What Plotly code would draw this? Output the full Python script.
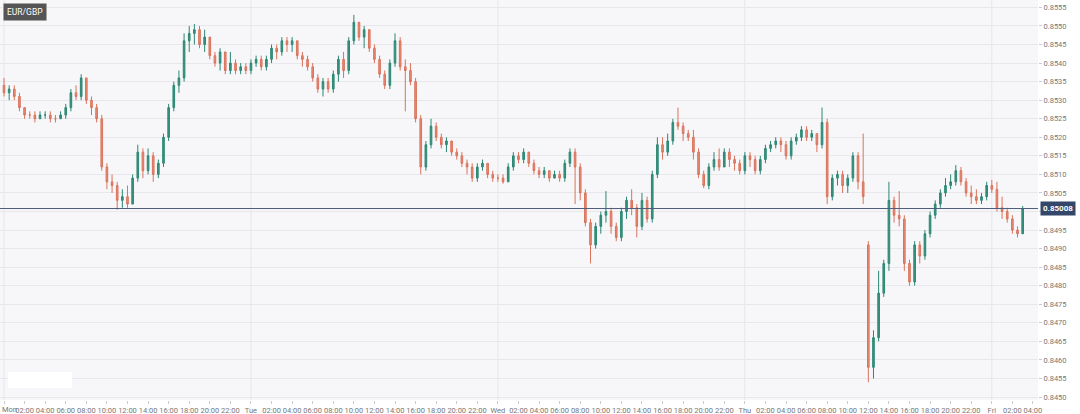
import plotly.graph_objects as go

# 30-minute candles, Mon 00:00 -> Fri 03:00 (hours since Mon 00:00)
open_ = [
    # Mon
    .8534,.8532,.8533,.8531,.8528,.8526,.8526,.8525,.8526,.8526,.8525,.8525,.8526,.8528,.8532,.8531,.8536,.8530,.8528,.8525,.8512,.8508,.8507,.8503,
    .8504,.8502,.8509,.8516,.8511,.8515,.8510,.8513,.8520,.8528,.8534,.8536,.8546,.8548,.8549,.8545,.8547,.8542,.8540,.8543,.8538,.8540,.8538,.8539,
    # Tue
    .8538,.8540,.8541,.8539,.8541,.8544,.8543,.8546,.8545,.8546,.8542,.8541,.8539,.8536,.8533,.8535,.8533,.8537,.8541,.8538,.8546,.8551,.8547,.8549,
    .8544,.8541,.8537,.8534,.8540,.8546,.8539,.8538,.8535,.8525,.8512,.8518,.8523,.8520,.8518,.8519,.8516,.8515,.8513,.8512,.8509,.8512,.8513,.8510,
    # Wed
    .8509,.8509,.8508,.8512,.8515,.8514,.8516,.8513,.8511,.8510,.8511,.8509,.8510,.8509,.8513,.8516,.8512,.8505,.8497,.8491,.8496,.8499,.8500,.8496,
    .8493,.8500,.8503,.8501,.8496,.8503,.8498,.8510,.8518,.8516,.8519,.8524,.8523,.8521,.8520,.8516,.8510,.8507,.8512,.8514,.8512,.8516,.8514,.8513,
    # Thu
    .8511,.8515,.8514,.8511,.8514,.8517,.8518,.8519,.8518,.8515,.8519,.8520,.8522,.8520,.8521,.8518,.8524,.8504,.8509,.8510,.8507,.8509,.8515,.8508,
    .8491,.8458,.8466,.8478,.8486,.8503,.8499,.8498,.8486,.8481,.8491,.8488,.8494,.8499,.8502,.8505,.8507,.8508,.8511,.8508,.8505,.8504,.8503,.8504,
    # Fri
    .8507,.8506,.8501,.8500,.8498,.8495,.8494,
]
high = [
    .8536,.8534,.8534,.8532,.8528,.8527,.8527,.8527,.8527,.8527,.8526,.8527,.8529,.8533,.8534,.8537,.8536,.8531,.8529,.8526,.8513,.8510,.8508,.8506,
    .8507,.8510,.8518,.8517,.8517,.8516,.8514,.8521,.8529,.8535,.8538,.8548,.8550,.85505,.8550,.8549,.8547,.8543,.8544,.8543,.8543,.8541,.8540,.8540,
    .8541,.8542,.8542,.8542,.8545,.8545,.8547,.8547,.8547,.8546,.8543,.8542,.8540,.8537,.8536,.8536,.8538,.8542,.8543,.8547,.8553,.8551,.8550,.8549,
    .8545,.8542,.8538,.8541,.8548,.8547,.8541,.8540,.8536,.8526,.8519,.8525,.8524,.8521,.8520,.8519,.8517,.8516,.8514,.8513,.8513,.8514,.8513,.8511,
    .8510,.8510,.8513,.8516,.8516,.8517,.8516,.8514,.8512,.8512,.8511,.8511,.8511,.8514,.8517,.8517,.8513,.8506,.8498,.8497,.8500,.85055,.8501,.8497,
    .8501,.8504,.8506,.8502,.8505,.8504,.8511,.8520,.8520,.8521,.8525,.8528,.8524,.8522,.8522,.8517,.8511,.8513,.8516,.8517,.8517,.8517,.8515,.8514,
    .8516,.8516,.8515,.8515,.8518,.8519,.8520,.8520,.8519,.8520,.8521,.8523,.8523,.8522,.8521,.8528,.8525,.8510,.8511,.8511,.8510,.8516,.8516,.8521,
    .8492,.8468,.8484,.8487,.8508,.8504,.85055,.8499,.8487,.8492,.8492,.8495,.8500,.8503,.8506,.8509,.8510,.85125,.8512,.8509,.8507,.8506,.8505,.8508,
    .85085,.8508,.8504,.8501,.8499,.8496,.85015,
]
low = [
    .8531,.8530,.8530,.8527,.8525,.8525,.8524,.8525,.8525,.8524,.8524,.8525,.8525,.8527,.8530,.8530,.8529,.8526,.8524,.8511,.8506,.8505,.85005,.8501,
    .8501,.8502,.8508,.8509,.8510,.8508,.8509,.8512,.8519,.8527,.8532,.8535,.8543,.8545,.8544,.8543,.8541,.8539,.8538,.8537,.8537,.8537,.8537,.8537,
    .8537,.8539,.8538,.8538,.8540,.8541,.8542,.8543,.8543,.8541,.8539,.8538,.8535,.8532,.8531,.8532,.8532,.8535,.8536,.8537,.8545,.8546,.8544,.8543,
    .8540,.8536,.8533,.8533,.8539,.8538,.8527,.8534,.8524,.8510,.8511,.8517,.8519,.8517,.8516,.8515,.8514,.8512,.8510,.8508,.8508,.8511,.8509,.8508,
    .8508,.85075,.8508,.8511,.8513,.8513,.8512,.8510,.8509,.8509,.8508,.8509,.8508,.8508,.8512,.8502,.8503,.8496,.8486,.8490,.8494,.8497,.8494,.8492,
    .8492,.8498,.8499,.8493,.8495,.8497,.8497,.8509,.8514,.8515,.8518,.8522,.8519,.8519,.8514,.8509,.85063,.8506,.8511,.8511,.8512,.8512,.8511,.8510,
    .8510,.8512,.8510,.8510,.8513,.8516,.8517,.8516,.8514,.8514,.8518,.8519,.8519,.8519,.8516,.8517,.8502,.8503,.8507,.8505,.8505,.8508,.8506,.8502,
    .8454,.8455,.8465,.8477,.8484,.8497,.8496,.8484,.8480,.8480,.8486,.8487,.8493,.8498,.8501,.8504,.8506,.8507,.8507,.8504,.8502,.8502,.8502,.8503,
    .8505,.8500,.8498,.8497,.8494,.8493,.8494,
]
close = [
    .8532,.8533,.8531,.8528,.8526,.8526,.8525,.8526,.8526,.8525,.8525,.8526,.8528,.8532,.8531,.8536,.8530,.8528,.8525,.8512,.8508,.8507,.8503,.8504,
    .8502,.8509,.8516,.8511,.8515,.8510,.8513,.8520,.8528,.8534,.8536,.8546,.8548,.8549,.8545,.8547,.8542,.8540,.8543,.8538,.8540,.8538,.8539,.8538,
    .8540,.8541,.8539,.8541,.8544,.8543,.8546,.8545,.8546,.8542,.8541,.8539,.8536,.8533,.8535,.8533,.8537,.8541,.8538,.8546,.8551,.8547,.8549,.8544,
    .8541,.8537,.8534,.8540,.8546,.8539,.8538,.8535,.8525,.8512,.8518,.8523,.8520,.8518,.8519,.8516,.8515,.8513,.8512,.8509,.8512,.8513,.8510,.8509,
    .8509,.8508,.8512,.8515,.8514,.8516,.8513,.8511,.8510,.8511,.8509,.8510,.8509,.8513,.8516,.8512,.8505,.8497,.8491,.8496,.8499,.8500,.8496,.8493,
    .8500,.8503,.8501,.8496,.8503,.8498,.8510,.8518,.8516,.8519,.8524,.8523,.8521,.8520,.8516,.8510,.8507,.8512,.8514,.8512,.8516,.8514,.8513,.8511,
    .8515,.8514,.8511,.8514,.8517,.8518,.8519,.8518,.8515,.8519,.8520,.8522,.8520,.8521,.8518,.8524,.8504,.8509,.8510,.8507,.8509,.8515,.8508,.8504,
    .8458,.8466,.8478,.8486,.8503,.8499,.8498,.8486,.8481,.8491,.8488,.8494,.8499,.8502,.8505,.8507,.8508,.8511,.8508,.8505,.8504,.8503,.8504,.8507,
    .8506,.8501,.8500,.8498,.8495,.8494,.85008,
]
hours = [i * 0.5 for i in range(len(close))]

day_names = ["Mon", "Tue", "Wed", "Thu", "Fri"]
hour_labels = ["02:00", "04:00", "06:00", "08:00", "10:00", "12:00",
               "14:00", "16:00", "18:00", "20:00", "22:00"]
tick_text = []
for d in day_names[:-1]:
    tick_text += [d] + hour_labels
tick_text += ["Fri", "02:00", "04:00"]
tick_vals = [2 * i for i in range(len(tick_text))]
day_starts = [24 * i for i in range(len(day_names))]
# first label sits at the very left edge; it is drawn as an annotation instead
axis_text = [""] + tick_text[1:]

y_tick_labels = ["0.8450", "0.8455", "0.8460", "0.8465", "0.8470", "0.8475", "0.8480",
                 "0.8485", "0.8490", "0.8495", "", "0.8505", "0.8510", "0.8515",
                 "0.8520", "0.8525", "0.8530", "0.8535", "0.8540", "0.8545", "0.8550", "0.8555"]
y_tick_vals = [0.8450 + 0.0005 * i for i in range(len(y_tick_labels))]

last_price = close[-1]

fig = go.Figure()
fig.add_trace(go.Candlestick(
    x=hours, open=open_, high=high, low=low, close=close,
    increasing=dict(line=dict(color="#2c8773", width=1), fillcolor="#3a9380"),
    decreasing=dict(line=dict(color="#d9735c", width=1), fillcolor="#e98b74"),
    whiskerwidth=0, showlegend=False, hoverinfo="skip",
))

shapes = []
for ds in day_starts:
    shapes.append(dict(type="line", xref="x", yref="paper", x0=ds, x1=ds, y0=0, y1=1,
                       line=dict(color="#e6e6ea", width=1), layer="below"))
shapes.append(dict(type="line", xref="paper", yref="y", x0=0, x1=1, y0=last_price, y1=last_price,
                   line=dict(color="#4e5d7c", width=1)))
# blank patch bottom-left
shapes.append(dict(type="rect", xref="paper", yref="paper", x0=8/1038, x1=72/1038,
                   y0=(400-388)/400, y1=(400-372)/400, fillcolor="white", line=dict(width=0)))

fig.update_layout(
    width=1080, height=414,
    margin=dict(l=0, r=42, t=0, b=14),
    paper_bgcolor="white", plot_bgcolor="#f7f7f9",
    font=dict(family="Roboto, Arial, sans-serif", size=8, color="#777777"),
    boxgap=0.55,
    shapes=shapes,
    xaxis=dict(
        range=[-0.39, 100.49], tickvals=tick_vals, ticktext=axis_text, tickangle=0,
        showgrid=False, zeroline=False, rangeslider=dict(visible=False),
        ticks="outside", ticklen=3, tickcolor="#cccccc", tickfont=dict(size=7.5, color="#777777"),
        showline=False, fixedrange=True,
    ),
    yaxis=dict(
        side="right", range=[0.84492, 0.85570], tickvals=y_tick_vals, ticktext=y_tick_labels,
        showgrid=True, gridcolor="#e8e8ec", gridwidth=1, zeroline=False,
        ticks="outside", ticklen=3, tickcolor="#cccccc", tickfont=dict(size=7.5, color="#777777"),
        showline=False, fixedrange=True,
    ),
    annotations=[
        dict(text="EUR/GBP", xref="paper", yref="paper", x=0.003, y=0.992,
             xanchor="left", yanchor="top", showarrow=False,
             font=dict(color="white", size=8.5, family="Roboto, Arial, sans-serif"),
             bgcolor="#555555", borderpad=3),
        dict(text="<b>%.5f</b>" % last_price, xref="paper", yref="y", x=1.002, y=last_price,
             xanchor="left", yanchor="middle", showarrow=False,
             font=dict(color="white", size=8, family="Roboto, Arial, sans-serif"),
             bgcolor="#34466a", borderpad=2),
        dict(text=tick_text[0], xref="paper", yref="paper", x=0, y=0, yshift=-2.5,
             xanchor="left", yanchor="top", showarrow=False,
             font=dict(color="#777777", size=7.5, family="Roboto, Arial, sans-serif")),
    ],
)

fig.write_html("out.html", config={"displayModeBar": False},
               post_script="document.body.style.margin='0';")
